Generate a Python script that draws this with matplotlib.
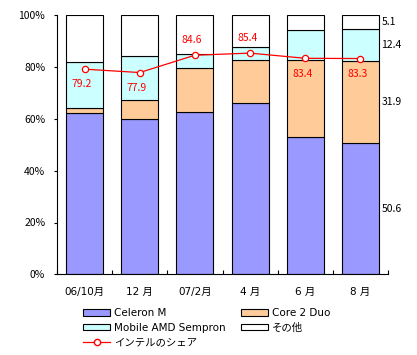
import matplotlib
matplotlib.use("Agg")
import matplotlib.pyplot as plt
import numpy as np
from matplotlib.lines import Line2D
from matplotlib.patches import Patch

plt.rcParams['font.family'] = ['Noto Sans CJK JP', 'DejaVu Sans']
LAT = ['DejaVu Sans', 'Noto Sans CJK JP']

categories = ["06/10月", "12 月", "07/2月", "4 月", "6 月", "8 月"]
celeron = [62.2, 59.8, 62.5, 66.0, 52.9, 50.6]
core2 = [1.9, 7.4, 17.0, 16.6, 29.7, 31.9]
amd = [17.8, 17.0, 5.6, 5.0, 11.6, 12.4]
other = [18.1, 15.8, 14.9, 12.4, 5.8, 5.1]
intel_share = [79.2, 77.9, 84.6, 85.4, 83.4, 83.3]
label_above = [False, False, True, True, False, False]
yticks = [0, 20, 40, 60, 80, 100]
ytick_labels = ["0%", "20%", "40%", "60%", "80%", "100%"]

W, H = 417, 355
fig = plt.figure(figsize=(W / 100, H / 100), dpi=100)
ax = fig.add_axes([57 / W, 1 - 274.3 / H, (388 - 57) / W, (274.3 - 15.3) / H])

x = np.arange(len(categories))
bw = 0.67
fs = 7.5
series = [("Celeron M", celeron, "#9999FF"),
          ("Core 2 Duo", core2, "#FFCC99"),
          ("Mobile AMD Sempron", amd, "#CCFFFF"),
          ("その他", other, "#FFFFFF")]
bottom = np.zeros(len(categories))
bottoms = []
for name, vals, col in series:
    ax.bar(x, vals, bw, bottom=bottom, color=col, edgecolor="black", linewidth=0.8, zorder=2)
    bottoms.append(bottom.copy())
    bottom = bottom + np.array(vals)

ax.plot(x, intel_share, color="#FF0000", linewidth=0.9, marker="o", markersize=4.5,
        markerfacecolor="white", markeredgecolor="#FF0000", markeredgewidth=0.9, zorder=4)
for xi, v, up in zip(x, intel_share, label_above):
    ax.annotate(f"{v:.1f}", (xi, v), xytext=(-2, 11 if up else -11), textcoords="offset points",
                ha="center", va="center", color="#FF0000", fontsize=fs, zorder=5)

# right-side labels for last bar
last = len(categories) - 1
for (name, vals, col), b in zip(series, bottoms):
    mid = b[last] + vals[last] / 2
    ax.text(last + 0.38, mid, f"{vals[last]:.1f}", ha="left", va="center", fontsize=fs)

ax.set_xlim(-0.5, len(categories) - 0.5)
ax.set_ylim(0, 100)
ax.set_yticks(yticks)
ax.set_yticklabels(ytick_labels, fontsize=fs)
ax.set_xticks(x)
ax.set_xticklabels(categories, fontsize=fs, family=LAT)
ax.set_xticks(np.arange(-0.5, len(categories)), minor=True)
ax.tick_params(axis="x", which="major", length=0, pad=9)
ax.tick_params(axis="x", which="minor", direction="in", length=2.7, width=0.8)
ax.tick_params(axis="y", direction="out", length=2.5, width=0.8, pad=6)
for s in ["top", "right"]:
    ax.spines[s].set_visible(False)
for s in ["left", "bottom"]:
    ax.spines[s].set_linewidth(0.8)

handles = [Patch(facecolor="#9999FF", edgecolor="black", linewidth=0.8),
           Patch(facecolor="#CCFFFF", edgecolor="black", linewidth=0.8),
           Line2D([], [], color="#FF0000", linewidth=0.9, marker="o", markersize=4.5,
                  markerfacecolor="white", markeredgecolor="#FF0000"),
           Patch(facecolor="#FFCC99", edgecolor="black", linewidth=0.8),
           Patch(facecolor="#FFFFFF", edgecolor="black", linewidth=0.8)]
labels = ["Celeron M", "Mobile AMD Sempron", "インテルのシェア", "Core 2 Duo", "その他"]
fig.legend(handles, labels, ncol=2, loc="upper left", bbox_to_anchor=(83 / W, 1 - 308 / H),
           frameon=False, prop={"family": LAT, "size": fs}, handlelength=2.6, handleheight=0.58,
           handletextpad=0.35, columnspacing=1.5, labelspacing=0.45, borderpad=0,
           borderaxespad=0)

fig.savefig("out.png", dpi=100)
